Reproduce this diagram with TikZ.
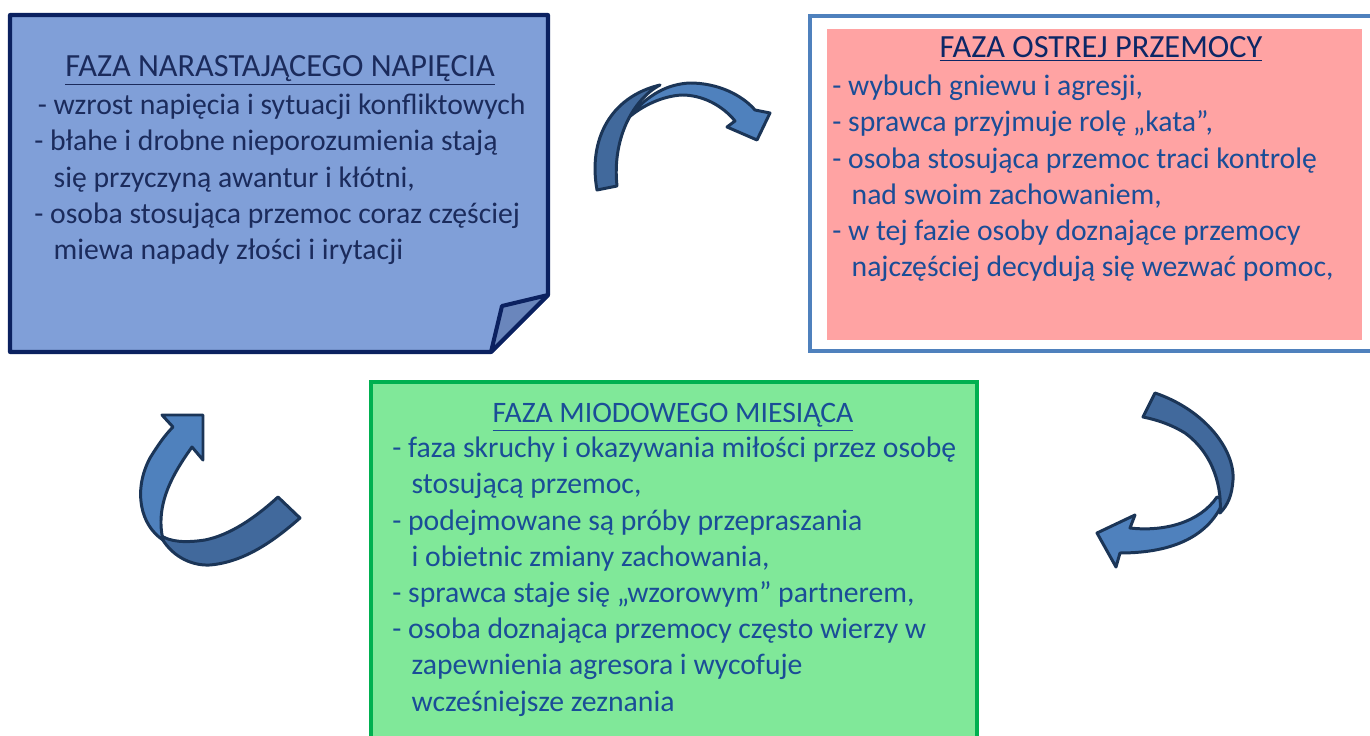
\documentclass[tikz,border=0pt]{standalone}
\usepackage{fontspec}
\setmainfont{Carlito}
\usetikzlibrary{calc}
\definecolor{notefill}{HTML}{809FD8}
\definecolor{notefold}{HTML}{6A86BC}
\definecolor{noteline}{HTML}{0B2160}
\definecolor{notetext}{HTML}{1B2B5C}
\definecolor{framecol}{HTML}{4F81BD}
\definecolor{pinkfill}{HTML}{FFA3A3}
\definecolor{greenfill}{HTML}{80E899}
\definecolor{greenline}{HTML}{00B050}
\definecolor{bodyblue}{HTML}{1A4D97}
\definecolor{headblue}{HTML}{0C2766}
\definecolor{arrowlight}{HTML}{4F81BD}
\definecolor{arrowdark}{HTML}{41699C}
\definecolor{arrowline}{HTML}{1B3557}
\newcommand\phasefont{\fontsize{16.9}{20.6}\selectfont}
\newcommand\bigheadfont{\fontsize{18.4}{22}\selectfont}
\newcommand\ind{\hspace*{11pt}}
\tikzset{
  heading/.style={anchor=base, inner sep=0pt, font=\phasefont},
  phaselist/.style={anchor=north west, inner sep=0pt, align=left, font=\phasefont},
  ribbonlight/.style={fill=arrowlight, draw=arrowline, line width=1.7pt, line join=round},
  ribbondark/.style={fill=arrowdark, draw=arrowline, line width=1.7pt, line join=round}
}
\begin{document}
\begin{tikzpicture}[x=0.02cm,y=-0.02cm]
\useasboundingbox (0,0) rectangle (1370,736);
\clip (0,0) rectangle (1370,736);

% note with folded corner
\draw[fill=notefill, draw=noteline, line width=2.3pt, line join=round]
  (10,15) -- (548,15) -- (548,295) -- (491,352) -- (10,352) -- cycle;
\draw[fill=notefold, draw=noteline, line width=2.3pt, line join=round]
  (548,295) -- (502,306) -- (491,352) -- cycle;
\node[heading, font=\bigheadfont, text=notetext] (tensionhead) at (280,77)
  {\underline{FAZA NARASTAJĄCEGO NAPIĘCIA}};
\node[phaselist, text=notetext] (tensionlist) at (34,89)
  {\strut\hspace*{2pt}- wzrost napięcia i sytuacji konfliktowych\\
   - błahe i drobne nieporozumienia stają\\
   \ind się przyczyną awantur i kłótni,\\
   - osoba stosująca przemoc coraz częściej\\
   \ind miewa napady złości i irytacji};

% framed pink box
\draw[framecol, fill=white, line width=2.3pt] (810,16) rectangle (1380,351);
\fill[pinkfill] (827,29) rectangle (1362,340);
\node[heading, font=\bigheadfont, text=headblue] (violencehead) at (1101,58)
  {\underline{FAZA OSTREJ PRZEMOCY}};
\node[phaselist, text=bodyblue] (violencelist) at (832,70)
  {\strut- wybuch gniewu i agresji,\\
   - sprawca przyjmuje rolę „kata”,\\
   - osoba stosująca przemoc traci kontrolę\\
   \ind nad swoim zachowaniem,\\
   - w tej fazie osoby doznające przemocy\\
   \ind najczęściej decydują się wezwać pomoc,};

% green box
\draw[fill=greenfill, draw=greenline, line width=2.3pt] (371,382) rectangle (977,760);
\node[heading, text=bodyblue] (honeyhead) at (673,423)
  {\underline{FAZA MIODOWEGO MIESIĄCA}};
\node[phaselist, text=bodyblue] (honeylist) at (392,432)
  {\strut- faza skruchy i okazywania miłości przez osobę\\
   \ind stosującą przemoc,\\
   - podejmowane są próby przepraszania\\
   \ind i obietnic zmiany zachowania,\\
   - sprawca staje się „wzorowym” partnerem,\\
   - osoba doznająca przemocy często wierzy w\\
   \ind zapewnienia agresora i wycofuje\\
   \ind wcześniejsze zeznania};

% arrow top
\draw[ribbonlight] (628,118) .. controls (648,94) and (668,84) .. (690,83)
  .. controls (718,83) and (742,95) .. (755,110) -- (770,113) -- (757,140)
  -- (727,127) -- (735,121) .. controls (722,105) and (702,95) .. (682,95)
  .. controls (662,96) and (642,106) .. (628,118) -- cycle;
\draw[ribbondark] (597,190) .. controls (588,140) and (610,97) .. (660,85)
  .. controls (632,100) and (612,140) .. (617,186) -- cycle;

% arrow right
\draw[ribbonlight] (1224,500) .. controls (1210,535) and (1175,553) .. (1120,553)
  -- (1116,567) -- (1097,533) -- (1135,515) -- (1130,528)
  .. controls (1165,532) and (1200,522) .. (1217,497) -- cycle;
\draw[ribbondark] (1143,417) -- (1155,393) .. controls (1205,410) and (1235,450) .. (1233,480)
  .. controls (1232,495) and (1228,505) .. (1220,513)
  .. controls (1222,490) and (1215,455) .. (1185,433)
  .. controls (1172,425) and (1158,420) .. (1143,417) -- cycle;

% arrow left
\draw[ribbondark] (160,535) .. controls (170,555) and (190,566) .. (210,565)
  .. controls (245,562) and (275,540) .. (300,518) -- (278,497)
  .. controls (255,518) and (230,535) .. (205,540)
  .. controls (185,543) and (170,542) .. (160,535) -- cycle;
\draw[ribbonlight] (163,540) .. controls (140,525) and (133,490) .. (150,458)
  .. controls (158,445) and (165,435) .. (173,427) -- (162,415) -- (203,415)
  -- (203,460) -- (192,447) .. controls (172,475) and (155,505) .. (163,540) -- cycle;
\end{tikzpicture}
\end{document}
